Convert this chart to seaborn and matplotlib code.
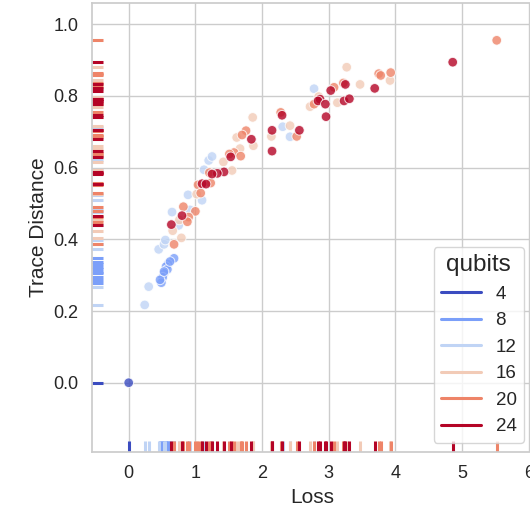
import numpy as np
import pandas as pd
import matplotlib
matplotlib.use("Agg")
import matplotlib.pyplot as plt
import seaborn as sns

# loss / trace distance per qubit count
loss_4 = [0.0]
trace_4 = [0.0]

loss_8 = [0.68, 0.59, 0.56, 0.58, 0.53, 0.51, 0.49, 0.47, 0.53, 0.62]
trace_8 = [0.347, 0.331, 0.324, 0.316, 0.305, 0.294, 0.279, 0.287, 0.310, 0.338]

loss_12 = [0.24, 0.30, 0.45, 0.53, 0.55, 0.65, 0.75, 0.92, 0.89, 1.10,
           1.13, 1.20, 1.25, 2.31, 2.42, 2.78]
trace_12 = [0.217, 0.268, 0.372, 0.386, 0.398, 0.476, 0.439, 0.482, 0.524, 0.509,
            0.594, 0.620, 0.631, 0.714, 0.686, 0.820]

loss_16 = [3.27, 3.92, 3.47, 2.85, 2.72, 3.13, 2.42, 2.14, 1.86, 1.62,
           1.87, 1.67, 1.42, 1.55, 1.02, 0.76, 0.66, 0.79]
trace_16 = [0.880, 0.843, 0.832, 0.798, 0.770, 0.781, 0.717, 0.687, 0.740, 0.684,
            0.661, 0.653, 0.616, 0.592, 0.526, 0.454, 0.424, 0.404]

loss_20 = [5.52, 3.75, 3.78, 3.93, 3.08, 3.22, 2.78, 2.28, 2.52, 1.76,
           1.70, 1.58, 1.51, 1.68, 1.21, 1.23, 1.04, 1.08, 0.82, 1.00,
           0.90, 0.88, 0.68]
trace_20 = [0.955, 0.862, 0.857, 0.865, 0.824, 0.836, 0.777, 0.754, 0.687, 0.703,
            0.691, 0.642, 0.638, 0.632, 0.586, 0.557, 0.552, 0.529, 0.491, 0.478,
            0.462, 0.449, 0.386]

loss_24 = [4.86, 3.69, 3.03, 3.25, 2.87, 2.84, 2.95, 2.96, 3.23, 3.31,
           2.30, 2.56, 2.15, 2.15, 1.84, 1.53, 1.43, 1.33, 1.25, 1.10,
           1.16, 0.80, 0.64]
trace_24 = [0.894, 0.821, 0.815, 0.832, 0.791, 0.786, 0.777, 0.742, 0.786, 0.792,
            0.746, 0.704, 0.704, 0.646, 0.679, 0.630, 0.588, 0.584, 0.582, 0.555,
            0.554, 0.466, 0.441]

groups = {4: (loss_4, trace_4), 8: (loss_8, trace_8), 12: (loss_12, trace_12),
          16: (loss_16, trace_16), 20: (loss_20, trace_20), 24: (loss_24, trace_24)}

rows = []
for q, (xs, ys) in groups.items():
    for x, y in zip(xs, ys):
        rows.append({"Loss": x, "Trace Distance": y, "qubits": q})
df = pd.DataFrame(rows)

sns.set_theme(style="whitegrid")
plt.rcParams["font.family"] = ["Liberation Sans", "DejaVu Sans"]
plt.rcParams["xtick.labelsize"] = 13
plt.rcParams["ytick.labelsize"] = 13
plt.rcParams["axes.labelsize"] = 15
plt.rcParams["legend.fontsize"] = 13.5
plt.rcParams["legend.title_fontsize"] = 17.5

fig = plt.figure(figsize=(5.3, 5.25), dpi=100)
ax = fig.add_axes([0.173, 0.1385, 0.8334, 0.8564])

sns.scatterplot(data=df, x="Loss", y="Trace Distance", hue="qubits",
                palette="coolwarm", s=48, alpha=0.8, edgecolor="white",
                linewidth=0.7, legend=False, ax=ax)
sns.rugplot(data=df, x="Loss", y="Trace Distance", hue="qubits",
            palette="coolwarm", linewidth=2.2, legend=True, ax=ax)

ax.set_xlim(-0.555, 6.07)
ax.set_ylim(-0.194, 1.06)
ax.set_yticks([0.0, 0.2, 0.4, 0.6, 0.8, 1.0])
sns.move_legend(ax, "lower right", handlelength=2.1)
for line in ax.get_legend().get_lines():
    line.set_linewidth(2.2)

fig.savefig("out.png", dpi=100)
